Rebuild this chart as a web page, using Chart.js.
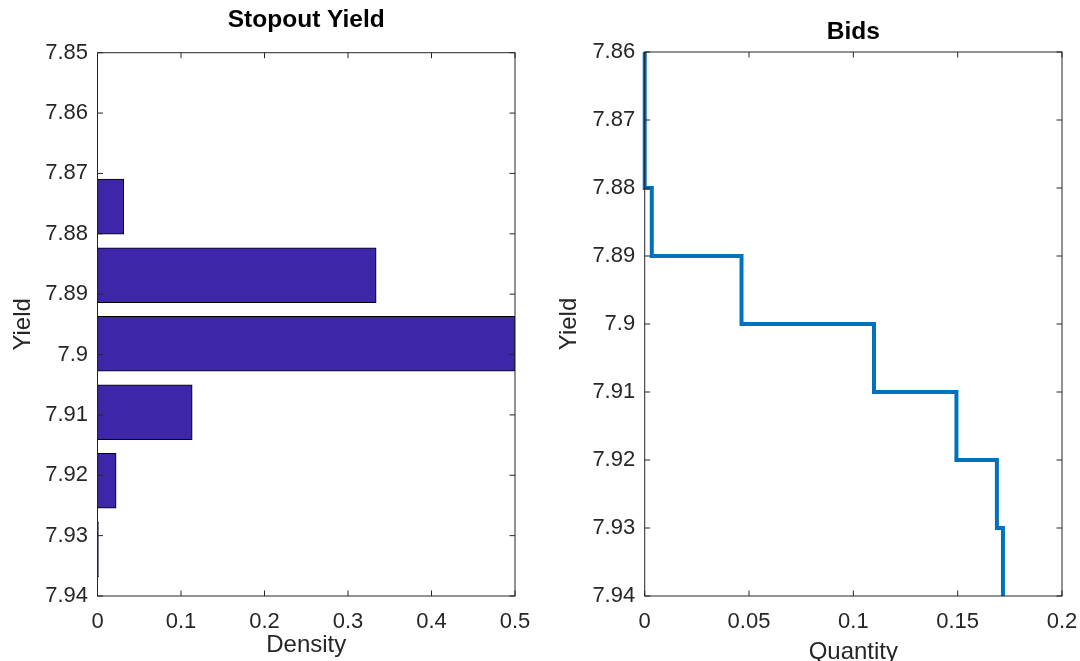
<!DOCTYPE html>
<html><head><meta charset="utf-8">
<script src="https://cdn.jsdelivr.net/npm/chart.js@4"></script>
<style>
html,body{margin:0;padding:0;background:#fff;overflow:hidden;width:1080px;height:661px;position:relative}
.box{position:absolute;top:0;width:560px;height:680px}
</style></head><body>
<div class="box" style="left:0"><canvas id="c1"></canvas></div>
<div class="box" style="left:540px"><canvas id="c2"></canvas></div>
<script>
// ---- data ----
const stopoutYield   = [7.8755, 7.8869, 7.8982, 7.9096, 7.9209, 7.9323];
const stopoutDensity = [0.0314, 0.3337, 0.5, 0.1134, 0.0223, 0.0012];
const densityTicks = [0, 0.1, 0.2, 0.3, 0.4, 0.5];
const densityTickLabels = ['0', '0.1', '0.2', '0.3', '0.4', '0.5'];
const leftYieldTicks = [7.85, 7.86, 7.87, 7.88, 7.89, 7.90, 7.91, 7.92, 7.93, 7.94];
const leftYieldTickLabels = ['7.85', '7.86', '7.87', '7.88', '7.89', '7.9', '7.91', '7.92', '7.93', '7.94'];

const bidYield    = [7.86, 7.87, 7.88, 7.89, 7.90, 7.91, 7.92, 7.93, 7.94];
const bidQuantity = [0, 0, 0.0034, 0.0464, 0.1099, 0.1494, 0.1688, 0.1717, 0.1717];
const quantityTicks = [0, 0.05, 0.1, 0.15, 0.2];
const quantityTickLabels = ['0', '0.05', '0.1', '0.15', '0.2'];
const rightYieldTicks = [7.86, 7.87, 7.88, 7.89, 7.90, 7.91, 7.92, 7.93, 7.94];
const rightYieldTickLabels = ['7.86', '7.87', '7.88', '7.89', '7.9', '7.91', '7.92', '7.93', '7.94'];

// ---- style ----
Chart.defaults.font.family = '"Liberation Sans", Arial, Helvetica, sans-serif';
Chart.defaults.color = '#262626';
const AX = '#262626';
const TICK_LEN = 5.5;

const axesBox = {
  id: 'axesBox',
  afterDraw(chart) {
    const {ctx, chartArea: a, scales} = chart;
    ctx.save();
    ctx.strokeStyle = AX;
    ctx.lineWidth = 1;
    ctx.beginPath();
    scales.x.ticks.forEach((t) => {
      const px = scales.x.getPixelForValue(t.value);
      ctx.moveTo(px, a.bottom); ctx.lineTo(px, a.bottom - TICK_LEN);
      ctx.moveTo(px, a.top); ctx.lineTo(px, a.top + TICK_LEN);
    });
    scales.y.ticks.forEach((t) => {
      const py = scales.y.getPixelForValue(t.value);
      ctx.moveTo(a.left, py); ctx.lineTo(a.left + TICK_LEN, py);
      ctx.moveTo(a.right, py); ctx.lineTo(a.right - TICK_LEN, py);
    });
    ctx.stroke();
    ctx.strokeRect(a.left, a.top, a.right - a.left, a.bottom - a.top);
    ctx.restore();
  }
};

function fixedTicks(values) {
  return (scale) => { scale.ticks = values.map(v => ({value: v})); };
}

function makeOptions(cfg) {
  return {
    responsive: true,
    maintainAspectRatio: false,
    animation: false,
    layout: {padding: {left: 0, right: cfg.padRight, top: 0, bottom: 0}},
    plugins: {
      legend: {display: false},
      tooltip: {enabled: false},
      title: {
        display: true, text: cfg.title, color: '#000', fullSize: false,
        font: {size: 24.5, weight: 'bold', lineHeight: 1.2},
        padding: {top: cfg.titleTop, bottom: cfg.titleBottom}
      }
    },
    scales: {
      x: {
        type: 'linear', min: cfg.xMin, max: cfg.xMax, offset: false,
        grid: {display: false, drawTicks: false}, border: {display: false},
        afterBuildTicks: fixedTicks(cfg.xTicks),
        afterFit: (s) => { s.height = 84; },
        ticks: {autoSkip: false, maxRotation: 0, padding: 13, font: {size: 22},
                callback: (v, i) => cfg.xLabels[i]},
        title: {display: true, text: cfg.xTitle, font: {size: 24, lineHeight: 1},
                padding: {top: 0, bottom: cfg.xTitleBottom}}
      },
      y: {
        type: 'linear', min: cfg.yMin, max: cfg.yMax, reverse: true, offset: false,
        grid: {display: false, drawTicks: false}, border: {display: false},
        afterBuildTicks: fixedTicks(cfg.yTicks),
        afterFit: (s) => { s.width = cfg.yWidth; },
        ticks: {autoSkip: false, padding: 9.5, font: {size: 22},
                callback: (v, i) => cfg.yLabels[i]},
        title: {display: true, text: 'Yield', font: {size: 24, lineHeight: 1},
                padding: {top: cfg.yTitleTop, bottom: 0}}
      }
    }
  };
}

const opt1 = makeOptions({
  title: 'Stopout Yield', titleTop: 5.3, titleBottom: 18.0, padRight: 45,
  xMin: 0, xMax: 0.5, xTicks: densityTicks, xLabels: densityTickLabels,
  xTitle: 'Density', xTitleBottom: 23,
  yMin: 7.85, yMax: 7.94, yTicks: leftYieldTicks, yLabels: leftYieldTickLabels,
  yWidth: 97.5, yTitleTop: 11
});
opt1.indexAxis = 'y';

new Chart(document.getElementById('c1'), {
  type: 'bar',
  data: {
    datasets: [{
      data: stopoutYield.map((y, i) => ({x: stopoutDensity[i], y: y})),
      backgroundColor: 'rgb(62,38,168)',
      borderColor: '#000',
      borderWidth: 1,
      borderSkipped: false,
      barThickness: 'flex',
      categoryPercentage: 1,
      barPercentage: 0.8
    }]
  },
  options: opt1,
  plugins: [axesBox]
});

const opt2 = makeOptions({
  title: 'Bids', titleTop: 17.3, titleBottom: 5.3, padRight: 38,
  xMin: 0, xMax: 0.2, xTicks: quantityTicks, xLabels: quantityTickLabels,
  xTitle: 'Quantity', xTitleBottom: 16,
  yMin: 7.86, yMax: 7.94, yTicks: rightYieldTicks, yLabels: rightYieldTickLabels,
  yWidth: 104.7, yTitleTop: 17
});

new Chart(document.getElementById('c2'), {
  type: 'scatter',
  data: {
    datasets: [{
      data: bidYield.map((y, i) => ({x: bidQuantity[i], y: y})),
      showLine: true,
      stepped: 'after',
      borderColor: '#0072BD',
      borderWidth: 4,
      borderCapStyle: 'butt',
      borderJoinStyle: 'miter',
      pointRadius: 0,
      fill: false,
      clip: 4
    }]
  },
  options: opt2,
  plugins: [axesBox]
});
</script>
</body></html>
